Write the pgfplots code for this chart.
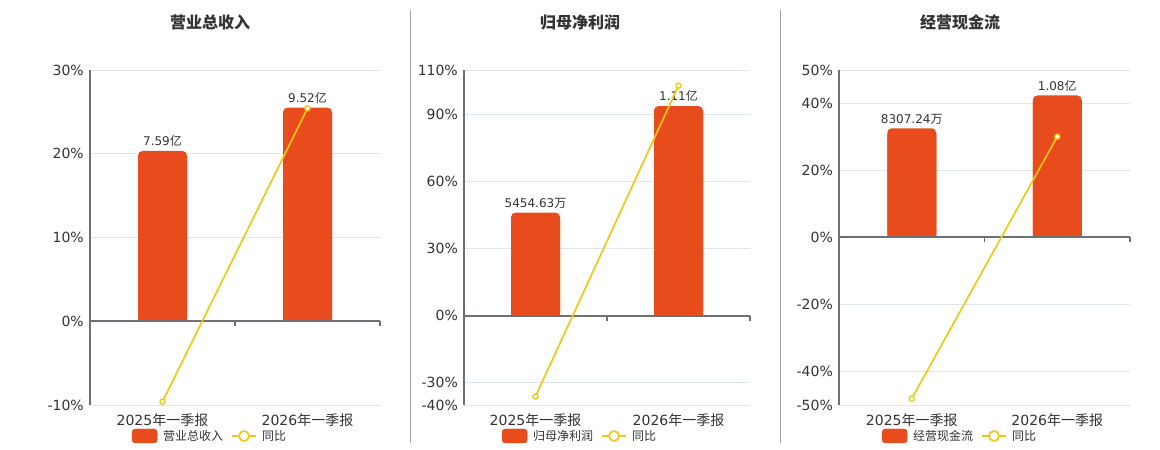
\documentclass[border=0pt]{standalone}
\usepackage{fontspec}
\setmainfont{DejaVu Sans}
\newfontfamily\cjk{Noto Sans CJK SC}
\usepackage{pgfplots}
\pgfplotsset{compat=1.18}
\definecolor{barcol}{HTML}{E84C1C}
\definecolor{linecol}{HTML}{F0C814}
\definecolor{gridcol}{HTML}{E0E6F1}
\definecolor{axiscol}{HTML}{6E7079}
\definecolor{txtcol}{HTML}{333333}
\definecolor{sepcol}{HTML}{A8A8A2}
\tikzset{
  zeroline/.style={axiscol, line width=2bp},
  zerotick/.style={axiscol, line width=1.2bp},
}
\pgfplotsset{
  base/.style={scale only axis, height=335bp, xmin=-0.5, xmax=1.5, clip=false, anchor=south west},
  pct/.style={base, ymajorgrids, grid style={gridcol, line width=0.8bp},
    axis y line*=left, axis x line*=bottom,
    y axis line style={axiscol, line width=1.3bp, -}, x axis line style={draw=none, -},
    ytick style={draw=none}, xtick style={draw=none},
    xtick={0,1}, xticklabels={2025{\cjk 年一季报},2026{\cjk 年一季报}},
    xticklabel style={font=\fontsize{14bp}{16bp}\selectfont, text=txtcol, anchor=center, yshift=-15bp},
    yticklabel style={font=\fontsize{14bp}{16bp}\selectfont, text=txtcol, anchor=east, inner sep=0pt, xshift=-6bp},
    yticklabel={\pgfmathprintnumber{\tick}\%},
    /pgf/number format/assume math mode=true,
  },
  bars/.style={scale only axis, xmin=-0.5, xmax=1.5, anchor=south west, clip=true, ymin=0,
    hide axis, ybar, bar width=49bp, bar shift=0pt},
  lines/.style={base, hide axis,
    legend style={anchor=center, draw=none, fill=none, font=\fontsize{12bp}{14bp}\selectfont\cjk, text=txtcol,
      legend columns=2, /tikz/every even column/.append style={column sep=6bp}, inner sep=0pt,
      nodes={inner sep=2bp}}},
  barstyle/.style={fill=barcol, draw=none, rounded corners=4.5bp,
    nodes near coords, point meta=explicit symbolic,
    every node near coord/.append style={font=\fontsize{12bp}{14bp}\selectfont, text=txtcol, inner sep=4bp}},
  barbase/.style={fill=barcol, draw=none, sharp corners, yshift=-6bp, forget plot},
  barleg/.style={legend image code/.code={\fill[barcol, rounded corners=3bp] (0bp,-7bp) rectangle (25bp,7bp);
      \path[draw=none, fill=none] (0bp,0bp) -- (29bp,0bp);}},
  linestyle/.style={linecol, line width=1.7bp, mark=*, mark size=2.6bp, mark options={fill=white, draw=linecol, line width=1.3bp},
    legend image code/.code={\draw[linecol, line width=1.7bp] (0bp,0bp) -- (24bp,0bp);
      \draw[linecol, line width=1.7bp, fill=white] (12bp,0bp) circle (5bp);
      \path[draw=none, fill=none] (0bp,0bp) -- (28bp,0bp);}},
}
\begin{document}
\begin{tikzpicture}[x=1bp,y=1bp]
\path (0,0) rectangle (1160,450);
% separators
\draw[sepcol, line width=1.3bp] (410.5,440) -- (410.5,7);
\draw[sepcol, line width=1.3bp] (780.5,440) -- (780.5,7);
% titles
\node[font=\fontsize{16bp}{18bp}\selectfont\cjk\bfseries, text=txtcol] at (210,428) {营业总收入};
\node[font=\fontsize{16bp}{18bp}\selectfont\cjk\bfseries, text=txtcol] at (580,428) {归母净利润};
\node[font=\fontsize{16bp}{18bp}\selectfont\cjk\bfseries, text=txtcol] at (960,428) {经营现金流};

% ===== Panel 1 =====
\begin{axis}[pct, at={(90bp,45bp)}, width=290bp, ymin=-10, ymax=30, ytick={-10,0,10,20,30}]
\end{axis}
\begin{axis}[bars, at={(90bp,128.75bp)}, width=290bp, height=251.25bp, ymax=11.20]
\addplot[barbase] coordinates {(0,7.59) (1,9.52)};
\addplot[barstyle] coordinates {(0,7.59) [7.59{\cjk 亿}] (1,9.52) [9.52{\cjk 亿}]};
\end{axis}
\begin{axis}[lines, at={(90bp,45bp)}, width=290bp, ymin=-10, ymax=30,
  legend style={at={(0.4138,-0.0925)}}]
\draw[zeroline] (axis cs:-0.5,0) -- (axis cs:1.5,0);
\draw[zerotick] (axis cs:0.5,0) -- ++(0bp,-5bp);
\draw[zerotick] (axis cs:1.5,0) -- ++(0bp,-5bp);
\addlegendimage{barleg}
\addlegendentry{营业总收入}
\addplot[linestyle] coordinates {(0,-9.6) (1,25.43)};
\addlegendentry{同比}
\end{axis}

% ===== Panel 2 =====
\begin{axis}[pct, at={(464bp,45bp)}, width=286bp, ymin=-40, ymax=110, ytick={-40,-30,0,30,60,90,110}]
\end{axis}
\begin{axis}[bars, at={(464bp,134.33bp)}, width=286bp, height=245.67bp, ymax=1.301]
\addplot[barbase] coordinates {(0,0.545463) (1,1.11)};
\addplot[barstyle] coordinates {(0,0.545463) [5454.63{\cjk 万}] (1,1.11) [1.11{\cjk 亿}]};
\end{axis}
\begin{axis}[lines, at={(464bp,45bp)}, width=286bp, ymin=-40, ymax=110,
  legend style={at={(0.4056,-0.0925)}}]
\draw[zeroline] (axis cs:-0.5,0) -- (axis cs:1.5,0);
\draw[zerotick] (axis cs:0.5,0) -- ++(0bp,-5bp);
\draw[zerotick] (axis cs:1.5,0) -- ++(0bp,-5bp);
\addlegendimage{barleg}
\addlegendentry{归母净利润}
\addplot[linestyle] coordinates {(0,-36.2) (1,103.0)};
\addlegendentry{同比}
\end{axis}

% ===== Panel 3 =====
\begin{axis}[pct, at={(839bp,45bp)}, width=291bp, ymin=-50, ymax=50, ytick={-50,-40,-20,0,20,40,50}]
\end{axis}
\begin{axis}[bars, at={(839bp,212.5bp)}, width=291bp, height=167.5bp, ymax=1.274]
\addplot[barbase] coordinates {(0,0.830724) (1,1.08)};
\addplot[barstyle] coordinates {(0,0.830724) [8307.24{\cjk 万}] (1,1.08) [1.08{\cjk 亿}]};
\end{axis}
\begin{axis}[lines, at={(839bp,45bp)}, width=291bp, ymin=-50, ymax=50,
  legend style={at={(0.4158,-0.0925)}}]
\draw[zeroline] (axis cs:-0.5,0) -- (axis cs:1.5,0);
\draw[zerotick] (axis cs:0.5,0) -- ++(0bp,-5bp);
\draw[zerotick] (axis cs:1.5,0) -- ++(0bp,-5bp);
\addlegendimage{barleg}
\addlegendentry{经营现金流}
\addplot[linestyle] coordinates {(0,-48.1) (1,30.1)};
\addlegendentry{同比}
\end{axis}
\end{tikzpicture}
\end{document}
